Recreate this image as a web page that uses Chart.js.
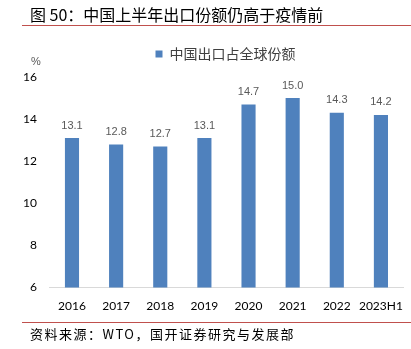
<!DOCTYPE html>
<html>
<head>
    <title>中国出口占全球份额</title>
    <script src="https://cdn.jsdelivr.net/npm/chart.js"></script>
    <style>
        body { margin: 0; background: #fff; }
    </style>
</head>
<body>
    <canvas id="shareChart" width="411" height="349"></canvas>

    <script>
        // data
        const years = ["2016", "2017", "2018", "2019", "2020", "2021", "2022", "2023H1"];
        const shareValues = [13.1, 12.8, 12.7, 13.1, 14.7, 15.0, 14.3, 14.2];
        const yTicks = [6, 8, 10, 12, 14, 16];

        const titleText = "图 50：中国上半年出口份额仍高于疫情前";
        const sourceText = "资料来源：WTO，国开证券研究与发展部";
        const seriesName = "中国出口占全球份额";

        // leave a bit more room under the legend and nudge it right
        const legendGap = {
            id: "legendGap",
            beforeInit(chart) {
                const fit = chart.legend.fit;
                chart.legend.fit = function () {
                    fit.bind(chart.legend)();
                    this.height += 6;
                };
            },
            afterLayout(chart) {
                chart.legend.left += 15;
                chart.legend.right += 15;
            }
        };

        // title, red rules, source line, unit and bar value labels
        const decorations = {
            id: "decorations",
            afterDraw(chart) {
                const ctx = chart.ctx;
                ctx.save();
                ctx.fillStyle = "#000";
                ctx.font = "16px 'Noto Sans CJK SC'";
                ctx.textBaseline = "middle";
                ctx.fillText(titleText, 30, 15);

                ctx.strokeStyle = "#c0504d";
                ctx.lineWidth = 1;
                ctx.beginPath();
                ctx.moveTo(22, 25.5);
                ctx.lineTo(411, 25.5);
                ctx.moveTo(22, 322.5);
                ctx.lineTo(411, 322.5);
                ctx.stroke();

                ctx.font = "13px 'Noto Sans CJK SC'";
                ctx.letterSpacing = "1.5px";
                ctx.fillText(sourceText, 30, 334);
                ctx.letterSpacing = "0px";

                ctx.font = "11px 'Liberation Sans'";
                ctx.fillStyle = "#595959";
                ctx.textAlign = "center";
                ctx.fillText("%", 36, 62);

                const meta = chart.getDatasetMeta(0);
                ctx.textBaseline = "bottom";
                meta.data.forEach((bar, i) => {
                    ctx.fillText(shareValues[i].toFixed(1), bar.x, bar.y - 7);
                });
                ctx.restore();
            }
        };

        const ctx = document.getElementById("shareChart").getContext("2d");
        new Chart(ctx, {
            type: "bar",
            data: {
                labels: years,
                datasets: [
                    {
                        label: seriesName,
                        data: shareValues,
                        backgroundColor: "#4f81bd",
                        barPercentage: 0.32,
                        categoryPercentage: 1,
                    },
                ],
            },
            options: {
                responsive: false,
                animation: false,
                layout: {
                    padding: { top: 35, bottom: 33, left: 18, right: 8 },
                },
                plugins: {
                    legend: {
                        position: "top",
                        labels: {
                            boxWidth: 7,
                            boxHeight: 7,
                            color: "#404040",
                            font: { size: 14, family: "'Noto Sans CJK SC'" },
                            padding: 12,
                        },
                    },
                    tooltip: { enabled: false },
                },
                scales: {
                    x: {
                        grid: { display: false },
                        border: { color: "#d9d9d9" },
                        ticks: {
                            color: "#000",
                            font: { size: 12, family: "Lato" },
                            maxRotation: 0,
                            autoSkip: false,
                        },
                    },
                    y: {
                        min: 6,
                        max: 16,
                        afterBuildTicks(axis) {
                            axis.ticks = yTicks.map(v => ({ value: v }));
                        },
                        grid: { display: false },
                        border: { display: false },
                        ticks: {
                            color: "#000",
                            font: { size: 12, family: "Lato" },
                            padding: 5,
                        },
                    },
                },
            },
            plugins: [legendGap, decorations],
        });
    </script>
</body>
</html>
